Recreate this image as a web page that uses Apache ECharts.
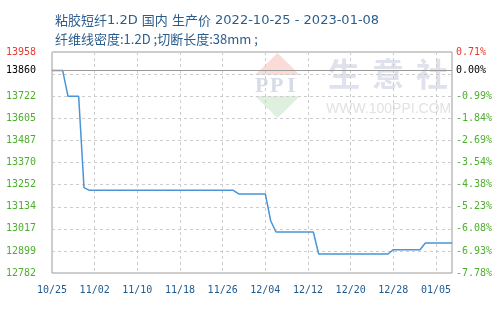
<!DOCTYPE html>
<html>
<head>
<meta charset="utf-8">
<script src="https://cdn.jsdelivr.net/npm/echarts@6/dist/echarts.min.js"></script>
<style>
html,body{margin:0;padding:0;background:#fff;}
#chart{width:498px;height:310px;}
</style>
</head>
<body>
<div id="chart"></div>
<script>
// ---- data ----
const titleParts1 = [['c','粘胶短纤'],['l','1.2D '],['c','国内'],['l',' '],['c','生产价'],['l',' 2022-10-25 - 2023-01-08']];
const titleLine2 = '纤维线密度:1.2D ;切断长度:38mm ;';

const dates = [
  '10/25','10/26','10/27','10/28','10/29','10/30','10/31',
  '11/01','11/02','11/03','11/04','11/05','11/06','11/07','11/08','11/09','11/10',
  '11/11','11/12','11/13','11/14','11/15','11/16','11/17','11/18','11/19','11/20',
  '11/21','11/22','11/23','11/24','11/25','11/26','11/27','11/28','11/29','11/30',
  '12/01','12/02','12/03','12/04','12/05','12/06','12/07','12/08','12/09','12/10',
  '12/11','12/12','12/13','12/14','12/15','12/16','12/17','12/18','12/19','12/20',
  '12/21','12/22','12/23','12/24','12/25','12/26','12/27','12/28','12/29','12/30',
  '12/31','01/01','01/02','01/03','01/04','01/05','01/06','01/07','01/08'
];

const prices = [
  13860,13860,13860,13722,13722,13722,13236,
  13222,13222,13222,13222,13222,13222,13222,13222,13222,13222,
  13222,13222,13222,13222,13222,13222,13222,13222,13222,13222,
  13222,13222,13222,13222,13222,13222,13222,13222,13203,13203,
  13203,13203,13203,13203,13060,13000,13000,13000,13000,13000,
  13000,13000,13000,12883,12883,12883,12883,12883,12883,12883,
  12883,12883,12883,12883,12883,12883,12883,12906,12906,12906,
  12906,12906,12906,12942,12942,12942,12942,12942,12942
];

const basePrice = 13860;
const yMin = 12782;
const yMax = 13958;
const yGridValues = [12782, 12899.5, 13017, 13134.5, 13252, 13369.5, 13487, 13604.5, 13722, 13839.5];
const yLabelValues = [12782, 12899.5, 13017, 13134.5, 13252, 13369.5, 13487, 13604.5, 13722, 13860, 13958];
const leftLabels = ['12782','12899','13017','13134','13252','13370','13487','13605','13722','13860','13958'];
const rightLabels = ['-7.78%','-6.93%','-6.08%','-5.23%','-4.38%','-3.54%','-2.69%','-1.84%','-0.99%','0.00%','0.71%'];

// ---- chart ----
const GREEN = '#4fae2e', RED = '#e8392b', BLACK = '#000';
function labelColor(v){
  v = Number(v);
  if (v === yMax) return RED;
  if (v === basePrice) return BLACK;
  return GREEN;
}
function idxOf(v){
  v = Number(v);
  let best = 0, bd = Infinity;
  yLabelValues.forEach((x,i)=>{ const d = Math.abs(x - v); if (d < bd){bd = d; best = i;} });
  return best;
}
function esc(s){ return s.replace(/[{}|]/g, ''); }

const chart = echarts.init(document.getElementById('chart'), null, {renderer:'canvas'});
const monoFont = 'DejaVu Sans Mono';
const TITLE_COLOR = '#2b5d8c';
const titleRich = titleParts1.map(p => '{' + p[0] + '|' + esc(p[1]) + '}').join('') + '\n{t2|' + esc(titleLine2) + '}';
const wmFont = 'bold 22px "Liberation Serif"';

chart.setOption({
  animation: false,
  backgroundColor: '#fff',
  title: {
    text: titleRich,
    left: 50,
    top: 6,
    textStyle: {
      fontFamily: 'Noto Sans CJK SC',
      fontSize: 13,
      fontWeight: 'normal',
      color: TITLE_COLOR,
      lineHeight: 19,
      rich: {
        c: { fontFamily: 'Noto Sans CJK SC', fontSize: 13, color: TITLE_COLOR, lineHeight: 19 },
        l: { fontFamily: 'DejaVu Sans', fontSize: 13, color: TITLE_COLOR, lineHeight: 19 },
        t2: { fontFamily: 'Noto Sans CJK SC', fontSize: 13, color: TITLE_COLOR, lineHeight: 19 }
      }
    }
  },
  grid: {
    left: 52, right: 46, top: 52, bottom: 37,
    show: true, borderColor: '#9a9a9a', borderWidth: 1
  },
  graphic: [
    { type:'polygon', z:-10, shape:{points:[[255,75],[277.5,53],[300,75]]}, style:{fill:'#f9dcd8'} },
    { type:'polygon', z:-10, shape:{points:[[255,96],[300,96],[277.5,118]]}, style:{fill:'#dff0df'} },
    { type:'text', z:-10, left:255, top:75, style:{text:'P', fill:'#d6dbe9', font:wmFont} },
    { type:'text', z:-10, left:270, top:75, style:{text:'P', fill:'#d6dbe9', font:wmFont} },
    { type:'text', z:-10, left:287, top:75, style:{text:'I', fill:'#d6dbe9', font:wmFont} },
    { type:'text', z:-10, left:328, top:58, style:{text:'生', fill:'#dfe2ec', font:'bold 32px "Noto Sans CJK SC"'} },
    { type:'text', z:-10, left:372, top:58, style:{text:'意', fill:'#dfe2ec', font:'bold 32px "Noto Sans CJK SC"'} },
    { type:'text', z:-10, left:416, top:58, style:{text:'社', fill:'#dfe2ec', font:'bold 32px "Noto Sans CJK SC"'} },
    { type:'text', z:-10, left:326, top:102, style:{text:'WWW.100PPI.COM', fill:'#e2e2e2', font:'14px "Liberation Sans"'} }
  ],
  xAxis: {
    type: 'category',
    data: dates,
    boundaryGap: false,
    axisLine: { show: false },
    axisTick: { show: false },
    axisLabel: {
      interval: 7,
      margin: 12,
      color: '#1f5a8e',
      fontFamily: monoFont,
      fontSize: 10
    },
    splitLine: {
      show: true,
      interval: 7,
      lineStyle: { color: '#cccccc', type: [3, 3], width: 1 }
    }
  },
  yAxis: [
    {
      type: 'value',
      min: yMin, max: yMax,
      position: 'left',
      axisLine: { show: false },
      axisTick: { show: false, customValues: yGridValues },
      axisLabel: {
        customValues: yLabelValues,
        margin: 16,
        fontFamily: monoFont,
        fontSize: 10,
        formatter: (v) => leftLabels[idxOf(v)],
        color: (v) => labelColor(v)
      },
      splitLine: {
        show: true,
        lineStyle: { color: '#cccccc', type: [3, 3], width: 1 }
      }
    },
    {
      type: 'value',
      min: yMin, max: yMax,
      position: 'right',
      axisLine: { show: false },
      axisTick: { show: false, customValues: yGridValues },
      axisLabel: {
        customValues: yLabelValues,
        margin: 4,
        fontFamily: monoFont,
        fontSize: 10,
        formatter: (v) => rightLabels[idxOf(v)],
        color: (v) => labelColor(v)
      },
      splitLine: { show: false }
    }
  ],
  series: [
    {
      type: 'line',
      data: prices,
      yAxisIndex: 0,
      showSymbol: false,
      symbol: 'none',
      lineStyle: { color: '#4a94d8', width: 1.5 },
      markLine: {
        silent: true,
        symbol: 'none',
        label: { show: false },
        lineStyle: { color: '#9a9a9a', type: 'solid', width: 1.2 },
        data: [{ yAxis: basePrice }]
      }
    }
  ]
});
</script>
</body>
</html>
